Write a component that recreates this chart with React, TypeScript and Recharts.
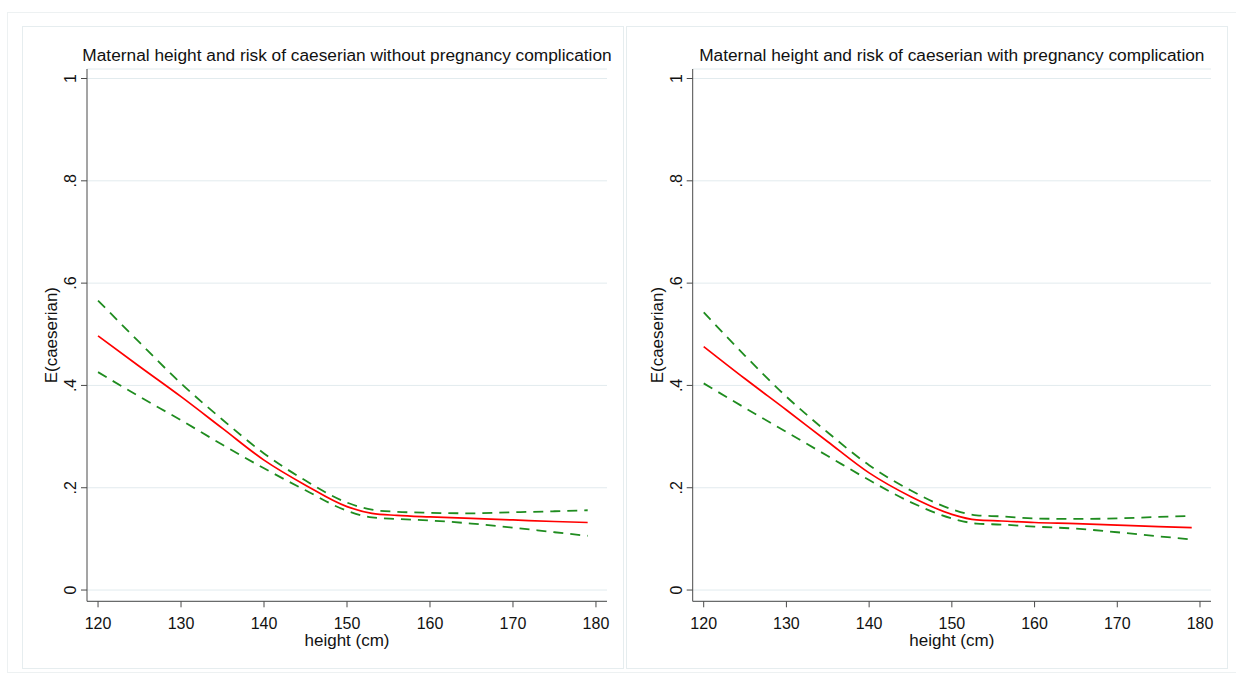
import { LineChart, Line, XAxis, YAxis, CartesianGrid } from 'recharts';

const heights = [120, 125, 130, 135, 140, 145, 150, 153, 156, 160, 165, 170, 175, 179];

// without pregnancy complication
const fitNoComp = [0.497, 0.437, 0.378, 0.316, 0.254, 0.205, 0.163, 0.150, 0.146, 0.143, 0.140, 0.137, 0.134, 0.132];
const upperNoComp = [0.566, 0.484, 0.404, 0.333, 0.267, 0.214, 0.171, 0.157, 0.153, 0.151, 0.150, 0.152, 0.154, 0.156];
const lowerNoComp = [0.426, 0.378, 0.332, 0.284, 0.238, 0.195, 0.155, 0.142, 0.139, 0.136, 0.130, 0.122, 0.113, 0.106];

// with pregnancy complication
const fitComp = [0.476, 0.413, 0.352, 0.290, 0.229, 0.183, 0.148, 0.137, 0.135, 0.132, 0.130, 0.127, 0.124, 0.122];
const upperComp = [0.543, 0.458, 0.378, 0.308, 0.244, 0.195, 0.158, 0.146, 0.144, 0.140, 0.139, 0.140, 0.143, 0.145];
const lowerComp = [0.404, 0.356, 0.309, 0.262, 0.215, 0.172, 0.140, 0.130, 0.128, 0.124, 0.120, 0.113, 0.105, 0.099];

const xTicks = [120, 130, 140, 150, 160, 170, 180];
const yTicks = [0, 0.2, 0.4, 0.6, 0.8, 1];

const titleNoComp = 'Maternal height and risk of caeserian without pregnancy complication';
const titleComp = 'Maternal height and risk of caeserian with pregnancy complication';
const xTitle = 'height (cm)';
const yTitle = 'E(caeserian)';

const FONT = '"Liberation Sans", Arial, sans-serif';
const PANEL_W = 602;
const PANEL_H = 643;
const AXIS_COLOR = '#4a4a4a';

const buildRows = (fit: number[], upper: number[], lower: number[]) =>
  heights.map((h, i) => ({ height: h, fit: fit[i], upper: upper[i], lower: lower[i] }));

const fmtY = (v: number) => {
  const r = Math.round(v * 10);
  if (r === 0) return '0';
  if (r === 10) return '1';
  return '.' + r;
};

function YTick(props: any) {
  const { x, y, payload } = props;
  return (
    <text
      x={x}
      y={y}
      transform={`rotate(-90 ${x} ${y})`}
      textAnchor="middle"
      fontSize={16}
      fontFamily={FONT}
      fill="#111"
    >
      {fmtY(payload.value)}
    </text>
  );
}

function YLabel(props: any) {
  const vb = props.viewBox;
  const cx = vb.x + vb.width - 30;
  const cy = vb.y + vb.height / 2;
  return (
    <text
      x={cx}
      y={cy}
      transform={`rotate(-90 ${cx} ${cy})`}
      textAnchor="middle"
      fontSize={17}
      fontFamily={FONT}
      fill="#111"
    >
      {yTitle}
    </text>
  );
}

function XLabel(props: any) {
  const vb = props.viewBox;
  return (
    <text x={vb.x + vb.width / 2} y={vb.y + 45} textAnchor="middle" fontSize={17} fontFamily={FONT} fill="#111">
      {xTitle}
    </text>
  );
}

function Panel({ x, axisWidth, plotWidth, title, rows }: any) {
  return (
    <div style={{ position: 'absolute', left: x, top: 26, width: PANEL_W, height: PANEL_H }}>
      <div
        style={{
          position: 'absolute',
          left: 0,
          top: 0,
          width: PANEL_W,
          height: PANEL_H,
          border: '1px solid #e6edef',
          boxSizing: 'border-box',
        }}
      />
      <div
        style={{
          position: 'absolute',
          left: axisWidth - 60,
          top: 20,
          width: plotWidth + 120,
          textAlign: 'center',
          fontFamily: FONT,
          fontSize: 17.3,
          lineHeight: '18px',
          color: '#111',
          whiteSpace: 'nowrap',
        }}
      >
        {title}
      </div>
      <div style={{ position: 'absolute', left: 0, top: 0 }}>
        <LineChart
          width={PANEL_W}
          height={PANEL_H}
          data={rows}
          margin={{ top: 43, right: PANEL_W - axisWidth - plotWidth, bottom: 7.7, left: 0 }}
        >
          <CartesianGrid horizontal vertical={false} stroke="#e2ebee" />
          <XAxis
            type="number"
            dataKey="height"
            domain={[118.67, 181.33]}
            ticks={xTicks}
            allowDataOverflow
            height={60}
            tickSize={6}
            tickMargin={10}
            stroke={AXIS_COLOR}
            tick={{ fill: '#111', fontSize: 16, fontFamily: FONT }}
            label={<XLabel />}
          />
          <YAxis
            type="number"
            domain={[-0.022, 1.0186]}
            ticks={yTicks}
            allowDataOverflow
            width={axisWidth}
            tickSize={6}
            tickMargin={5}
            stroke={AXIS_COLOR}
            tick={<YTick />}
            label={<YLabel />}
          />
          <Line
            type="monotone"
            dataKey="upper"
            stroke="#1f8c1f"
            strokeWidth={1.8}
            strokeDasharray="10 7"
            dot={false}
            isAnimationActive={false}
          />
          <Line
            type="monotone"
            dataKey="lower"
            stroke="#1f8c1f"
            strokeWidth={1.8}
            strokeDasharray="10 7"
            dot={false}
            isAnimationActive={false}
          />
          <Line
            type="monotone"
            dataKey="fit"
            stroke="#ff0000"
            strokeWidth={1.7}
            dot={false}
            isAnimationActive={false}
          />
        </LineChart>
      </div>
    </div>
  );
}

export default function App() {
  return (
    <div
      style={{
        position: 'absolute',
        left: 0,
        top: 0,
        width: 1236,
        height: 674,
        background: '#fff',
        overflow: 'hidden',
      }}
    >
      <div
        style={{
          position: 'absolute',
          left: 7,
          top: 12,
          width: 1240,
          height: 661,
          border: '1px solid #edf1f2',
          boxSizing: 'border-box',
        }}
      />
      <Panel x={22} axisWidth={65} plotWidth={520} title={titleNoComp} rows={buildRows(fitNoComp, upperNoComp, lowerNoComp)} />
      <Panel x={626} axisWidth={66.7} plotWidth={518.3} title={titleComp} rows={buildRows(fitComp, upperComp, lowerComp)} />
    </div>
  );
}
